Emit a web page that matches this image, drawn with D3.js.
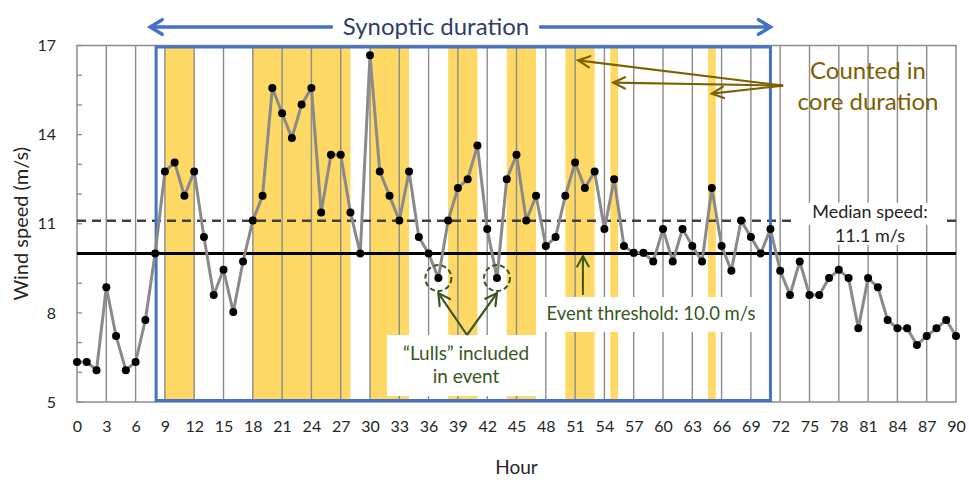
<!DOCTYPE html>
<html>
<head>
<meta charset="utf-8">
<script src="https://cdn.jsdelivr.net/npm/d3@7"></script>
<style>
  body { margin: 0; background: #fff; }
  svg { display: block; font-family: Lato, "Open Sans", sans-serif; }
</style>
</head>
<body>
<svg id="chart" width="969" height="483"></svg>
<script>
// Hourly wind speed record (m/s), hour 0 .. 90
const hours = d3.range(0, 91);
const windSpeed = [
  6.35, 6.35, 6.07, 8.86, 7.22, 6.07, 6.35, 7.76, 10.0, 12.76,
  13.06, 11.94, 12.76, 10.55, 8.60, 9.45, 8.03, 9.73, 11.11, 11.94,
  15.57, 14.72, 13.89, 15.01, 15.57, 11.38, 13.32, 13.32, 11.38, 10.0,
  16.67, 12.76, 11.94, 11.11, 12.76, 10.55, 10.0, 9.17, 11.11, 12.20,
  12.50, 13.63, 10.82, 9.17, 12.50, 13.32, 11.11, 11.94, 10.25, 10.55,
  11.94, 13.06, 12.20, 12.76, 10.82, 12.50, 10.25, 10.02, 10.02, 9.73,
  10.82, 9.73, 10.82, 10.25, 9.73, 12.20, 10.25, 9.42, 11.11, 10.55,
  10.0, 10.82, 9.42, 8.60, 9.73, 8.60, 8.60, 9.17, 9.45, 9.17,
  7.48, 9.17, 8.86, 7.76, 7.48, 7.48, 6.92, 7.22, 7.48, 7.76,
  7.22
];

// Periods counted in the core duration (start hour, end hour)
const coreBandStart = [9, 18, 30, 38, 44, 50, 54.6, 64.6];
const coreBandEnd   = [12, 28, 34, 41, 47, 53, 55.4, 65.4];

// Synoptic event window (hours)
const synopticStart = 8.1;
const synopticEnd = 71;

const eventThreshold = 10.0;
const medianSpeed = 11.1;
const lullHours = [37, 43];

const xTickValues = d3.range(0, 91, 3);
const yTickLabels = [5, 8, 11, 14, 17];
const yMinorTicks = d3.range(5, 18);

const svg = d3.select("#chart");
const x = d3.scaleLinear().domain([0, 90]).range([77, 956]);
const y = d3.scaleLinear().domain([5, 17]).range([402, 45.5]);

const GRID = "#8c8c8c";
const BLUE = "#4472C4";
const OLIVE = "#7F6000";
const GREEN = "#385723";
const GOLD = "#FFD966";
const INK = "#262626";

// Core-duration bands
svg.append("g").selectAll("rect")
  .data(coreBandStart.map((s, i) => [s, coreBandEnd[i]]))
  .join("rect")
  .attr("x", d => x(d[0]))
  .attr("width", d => x(d[1]) - x(d[0]))
  .attr("y", y(17))
  .attr("height", y(5) - y(17))
  .attr("fill", GOLD);

// Vertical gridlines every 3 hours
svg.append("g").selectAll("line")
  .data(xTickValues.filter(h => h > 0 && h < 90))
  .join("line")
  .attr("x1", d => x(d)).attr("x2", d => x(d))
  .attr("y1", y(17)).attr("y2", y(5))
  .attr("stroke", GRID).attr("stroke-width", 1.4);

// Plot frame
svg.append("rect")
  .attr("x", x(0)).attr("y", y(17))
  .attr("width", x(90) - x(0)).attr("height", y(5) - y(17))
  .attr("fill", "none").attr("stroke", GRID).attr("stroke-width", 1.5);

// Y axis: inward minor ticks at every unit, labels every 3
svg.append("g").selectAll("line")
  .data(yMinorTicks)
  .join("line")
  .attr("x1", x(0)).attr("x2", x(0) + 5)
  .attr("y1", d => y(d)).attr("y2", d => y(d))
  .attr("stroke", GRID).attr("stroke-width", 1.3);

const yAxis = d3.axisLeft(y).tickValues(yTickLabels).tickSize(0).tickPadding(21);
svg.append("g")
  .attr("transform", `translate(${x(0)},0)`)
  .call(yAxis)
  .call(g => g.select(".domain").remove())
  .call(g => g.selectAll("text")
    .attr("font-family", "Lato, sans-serif")
    .attr("font-size", 16).attr("fill", INK));

// X axis labels
const xAxis = d3.axisBottom(x).tickValues(xTickValues).tickSize(0).tickPadding(19);
svg.append("g")
  .attr("transform", `translate(0,${y(5)})`)
  .call(xAxis)
  .call(g => g.select(".domain").remove())
  .call(g => g.selectAll("text")
    .attr("font-family", "Lato, sans-serif")
    .attr("font-size", 16).attr("fill", INK));

// Axis titles
svg.append("text")
  .attr("x", (x(0) + x(90)) / 2).attr("y", 474)
  .attr("text-anchor", "middle")
  .attr("font-size", 19).attr("fill", INK)
  .text("Hour");

svg.append("text")
  .attr("transform", `translate(28,${(y(5) + y(17)) / 2}) rotate(-90)`)
  .attr("text-anchor", "middle")
  .attr("font-size", 20).attr("fill", INK)
  .text("Wind speed (m/s)");

// Threshold and median reference lines
svg.append("line")
  .attr("x1", x(0)).attr("x2", x(90))
  .attr("y1", y(eventThreshold)).attr("y2", y(eventThreshold))
  .attr("stroke", "#000").attr("stroke-width", 3);

svg.append("line")
  .attr("x1", x(0)).attr("x2", x(90))
  .attr("y1", y(medianSpeed)).attr("y2", y(medianSpeed))
  .attr("stroke", "#404040").attr("stroke-width", 2.5)
  .attr("stroke-dasharray", "9,6");

// Synoptic window frame
svg.append("rect")
  .attr("x", x(synopticStart)).attr("y", y(17) + 1.5)
  .attr("width", x(synopticEnd) - x(synopticStart))
  .attr("height", y(5) - y(17) - 3)
  .attr("fill", "none").attr("stroke", BLUE).attr("stroke-width", 3);

// Wind speed series
const series = hours.map((h, i) => ({ h, v: windSpeed[i] }));
svg.append("path")
  .datum(series)
  .attr("fill", "none")
  .attr("stroke", "#8a8a8a").attr("stroke-width", 3)
  .attr("stroke-linejoin", "round")
  .attr("d", d3.line().x(d => x(d.h)).y(d => y(d.v)));

svg.append("g").selectAll("circle")
  .data(series)
  .join("circle")
  .attr("cx", d => x(d.h)).attr("cy", d => y(d.v))
  .attr("r", 4).attr("fill", "#000");

// Helper: straight arrow with an open V head
function arrow(g, x1, y1, x2, y2, color, width, len, spread) {
  const a = Math.atan2(y2 - y1, x2 - x1);
  g.append("line")
    .attr("x1", x1).attr("y1", y1).attr("x2", x2).attr("y2", y2)
    .attr("stroke", color).attr("stroke-width", width);
  const p1 = [x2 - len * Math.cos(a - spread), y2 - len * Math.sin(a - spread)];
  const p2 = [x2 - len * Math.cos(a + spread), y2 - len * Math.sin(a + spread)];
  g.append("path")
    .attr("d", `M${p1[0]},${p1[1]}L${x2},${y2}L${p2[0]},${p2[1]}`)
    .attr("fill", "none").attr("stroke", color).attr("stroke-width", width)
    .attr("stroke-linecap", "round").attr("stroke-linejoin", "miter");
}

const ann = svg.append("g");

// Synoptic duration arrow
const synY = 27;
arrow(ann, x(41), synY, x(7.5), synY, BLUE, 3.5, 14, 0.55);
arrow(ann, x(41), synY, x(71), synY, BLUE, 3.5, 14, 0.55);
const synText = ann.append("text")
  .attr("x", 436).attr("y", synY + 8)
  .attr("text-anchor", "middle")
  .attr("font-size", 24).attr("fill", "#2F3E6B")
  .text("Synoptic duration");
const sb = synText.node().getBBox();
ann.insert("rect", "text")
  .attr("x", sb.x - 10).attr("y", sb.y)
  .attr("width", sb.width + 20).attr("height", sb.height)
  .attr("fill", "#fff");

// Core duration callout
const coreFrom = [x(72.3), y(15.65)];
[[51.3, 16.5], [54.9, 15.75], [65.0, 15.38]].forEach(t => {
  arrow(ann, coreFrom[0], coreFrom[1], x(t[0]), y(t[1]), OLIVE, 2.2, 13, 0.45);
});
ann.append("text")
  .attr("x", 868).attr("y", 79)
  .attr("text-anchor", "middle")
  .attr("font-size", 24).attr("fill", OLIVE)
  .text("Counted in");
ann.append("text")
  .attr("x", 868).attr("y", 110)
  .attr("text-anchor", "middle")
  .attr("font-size", 24).attr("fill", OLIVE)
  .text("core duration");

// Median label with white backing over the dashed line
ann.append("rect")
  .attr("x", 793).attr("y", y(medianSpeed) - 18)
  .attr("width", 154).attr("height", 22)
  .attr("fill", "#fff");
const medLine2 = ann.append("text")
  .attr("x", 870).attr("y", 242)
  .attr("text-anchor", "middle")
  .attr("font-size", 18).attr("fill", INK)
  .text("11.1 m/s");
const mb = medLine2.node().getBBox();
ann.insert("rect", () => medLine2.node())
  .attr("x", mb.x - 3).attr("y", mb.y + 1)
  .attr("width", mb.width + 6).attr("height", mb.height - 2)
  .attr("fill", "#fff");
ann.append("text")
  .attr("x", 870).attr("y", 218)
  .attr("text-anchor", "middle")
  .attr("font-size", 18).attr("fill", INK)
  .text("Median speed:");

// Event threshold label
ann.append("rect")
  .attr("x", 536).attr("y", 297)
  .attr("width", 231).attr("height", 35)
  .attr("fill", "#fff");
ann.append("text")
  .attr("x", 651).attr("y", 320)
  .attr("text-anchor", "middle")
  .attr("font-size", 18.5).attr("fill", GREEN)
  .text("Event threshold: 10.0 m/s");
arrow(ann, x(51.8), 295, x(51.8), y(eventThreshold) + 2.5, GREEN, 2, 12, 0.5);

// Lulls: dashed rings and callout
ann.selectAll("circle.lull")
  .data(lullHours)
  .join("circle")
  .attr("class", "lull")
  .attr("cx", d => x(d)).attr("cy", d => y(windSpeed[d]))
  .attr("r", 13)
  .attr("fill", "none").attr("stroke", GREEN).attr("stroke-width", 2)
  .attr("stroke-dasharray", "5,3");
ann.append("rect")
  .attr("x", 387).attr("y", 335)
  .attr("width", 158).attr("height", 61)
  .attr("fill", "#fff");
lullHours.forEach(h => {
  arrow(ann, 467, 335, x(h), y(windSpeed[h]) + 15, GREEN, 2.2, 13, 0.5);
});
ann.append("text")
  .attr("x", 466).attr("y", 360)
  .attr("text-anchor", "middle")
  .attr("font-size", 19).attr("fill", GREEN)
  .text("\u201CLulls\u201D included");
ann.append("text")
  .attr("x", 466).attr("y", 383)
  .attr("text-anchor", "middle")
  .attr("font-size", 19).attr("fill", GREEN)
  .text("in event");
</script>
</body>
</html>
